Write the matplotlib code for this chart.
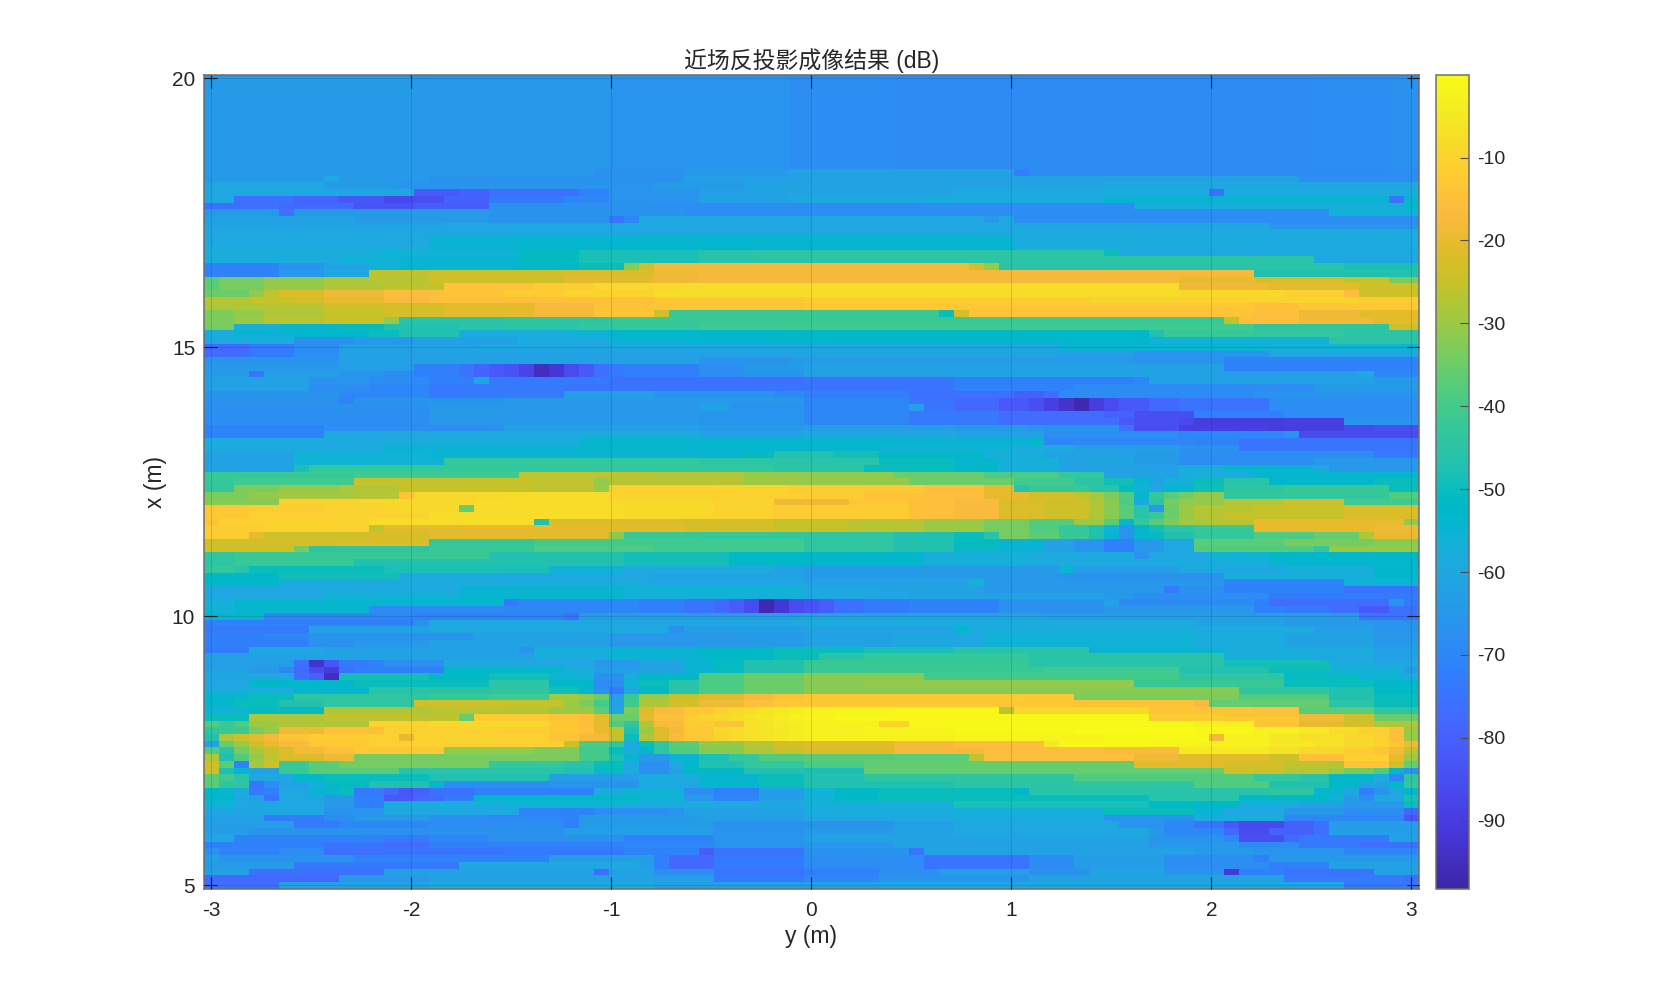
import numpy as np
import matplotlib
matplotlib.use("Agg")
import matplotlib.pyplot as plt
from matplotlib.colors import LinearSegmentedColormap

plt.rcParams['font.family'] = ['Liberation Sans', 'Noto Sans CJK SC', 'DejaVu Sans']
plt.rcParams['axes.unicode_minus'] = False

title_text = '近场反投影成像结果 (dB)'
x_label = 'y (m)'
y_label = 'x (m)'
x_ticks = [-3, -2, -1, 0, 1, 2, 3]
y_ticks = [5, 10, 15, 20]
cbar_ticks = [-10, -20, -30, -40, -50, -60, -70, -80, -90]
db_limits = (-98.2, 0.0)

y_centres = np.arange(81) * 0.075 - 3.0      # image columns (m)
x_centres = 20.0 - np.arange(121) * 0.125    # image rows, top to bottom (m)

TOP = [0,-64, 14,-65, 27,-66, 39,-68, 46,-69, 74,-68, 79,-67]

# each row: start column, dB, start column, dB, ...
rows = [
 TOP, TOP, TOP, TOP, TOP, TOP, TOP, TOP, TOP, TOP, TOP, TOP, TOP, TOP,
 [0,-64, 26,-67, 32,-64, 39,-62, 54,-72, 55,-69],
 [0,-64, 8,-60, 9,-64, 12,-65, 15,-67, 32,-63, 39,-62, 73,-68],
 [0,-60, 8,-64, 13,-66, 30,-64, 36,-61, 60,-60],
 [0,-60, 14,-82, 17,-80, 19,-76, 25,-71, 27,-66, 33,-63, 37,-61, 50,-58, 67,-76, 68,-58],
 [0,-60, 2,-76, 6,-79, 9,-83, 12,-87, 14,-85, 16,-80, 19,-74, 24,-70, 27,-66, 33,-62, 39,-60, 48,-58, 60,-55, 79,-76, 80,-55],
 [0,-76, 5,-78, 10,-84, 14,-81, 19,-67, 30,-68, 62,-57, 80,-53],
 [0,-64, 5,-76, 6,-64, 19,-66, 32,-68, 75,-56],
 [0,-62, 10,-64, 19,-66, 27,-75, 28,-70, 29,-60, 52,-65, 53,-60, 54,-68],
 [0,-62, 10,-61, 16,-60, 71,-66],
 [0,-60, 54,-59],
 [0,-60, 15,-55, 21,-54, 54,-58, 70,-59],
 [0,-59, 15,-55, 21,-54, 54,-58, 70,-59],
 [0,-58, 11,-56, 21,-51, 25,-48, 33,-46, 37,-45, 60,-50, 61,-60],
 [0,-58, 9,-56, 13,-55, 21,-51, 25,-48, 33,-46, 37,-45, 74,-60],
 [0,-71, 5,-66, 8,-62, 11,-56, 13,-54, 21,-52, 25,-50, 28,-32, 29,-24, 30,-18, 51,-23, 52,-30, 53,-46, 76,-48],
 [0,-71, 5,-65, 8,-60, 11,-26, 15,-24, 24,-22, 30,-19, 33,-18, 70,-47],
 [0,-37, 1,-34, 4,-31, 8,-28, 11,-27, 15,-24, 24,-21, 30,-19, 33,-18, 65,-20, 70,-22, 76,-25, 79,-33],
 [0,-37, 1,-34, 4,-31, 8,-28, 12,-26, 16,-14, 22,-12, 26,-9, 32,-8, 65,-19, 71,-21, 77,-24],
 [0,-35, 3,-31, 4,-26, 5,-22, 8,-19, 12,-16, 16,-14, 20,-12, 24,-10, 30,-8, 65,-9, 72,-11, 76,-16, 77,-24],
 [0,-27, 3,-25, 6,-23, 8,-20, 12,-17, 15,-15, 30,-13, 40,-12, 59,-10, 77,-12],
 [0,-28, 4,-27, 8,-24, 12,-23, 16,-21, 22,-17, 26,-14, 40,-13, 70,-15, 73,-13],
 [0,-33, 2,-31, 4,-28, 8,-25, 12,-23, 16,-21, 22,-18, 26,-14, 30,-24, 31,-42, 49,-50, 50,-23, 51,-14, 70,-15, 73,-19, 77,-21],
 [0,-33, 2,-30, 4,-27, 8,-25, 12,-31, 13,-46, 20,-44, 27,-42, 68,-26, 69,-16, 73,-19, 78,-21],
 [0,-34, 2,-57, 5,-54, 9,-51, 12,-47, 17,-45, 25,-43, 33,-41, 70,-44, 79,-24],
 [0,-58, 2,-55, 6,-53, 11,-50, 13,-47, 17,-58, 24,-56, 27,-53, 38,-52, 63,-47, 64,-42, 70,-43, 76,-45],
 [0,-60, 2,-58, 6,-67, 10,-65, 14,-62, 21,-59, 27,-55, 32,-53, 63,-56, 75,-45],
 [0,-78, 3,-74, 6,-69, 9,-62, 18,-60, 57,-55, 70,-56],
 [0,-77, 3,-73, 6,-68, 9,-62, 40,-61, 57,-63, 62,-66, 71,-60],
 [0,-66, 9,-62, 33,-66, 39,-64, 62,-66, 68,-71],
 [0,-65, 9,-63, 14,-72, 17,-75, 18,-79, 19,-82, 20,-84, 21,-88, 22,-95, 23,-92, 24,-86, 25,-82, 26,-76, 27,-74, 28,-72, 33,-68, 36,-64, 40,-62, 68,-71],
 [0,-64, 3,-75, 4,-63, 9,-66, 12,-69, 14,-72, 17,-75, 18,-79, 19,-82, 20,-84, 21,-88, 22,-95, 23,-92, 24,-86, 25,-82, 26,-76, 27,-74, 28,-72, 33,-68, 36,-66, 40,-62, 68,-63, 77,-59, 78,-70],
 [0,-62, 7,-66, 11,-69, 15,-72, 18,-60, 19,-74, 27,-76, 40,-75, 50,-72, 62,-70, 63,-62, 78,-64],
 [0,-62, 7,-68, 11,-70, 15,-74, 24,-75, 50,-71, 58,-69, 74,-64],
 [0,-66, 9,-70, 15,-74, 24,-63, 30,-66, 38,-69, 40,-72, 47,-76, 54,-80, 56,-77, 57,-69, 70,-66],
 [0,-67, 9,-71, 10,-66, 20,-65, 40,-70, 47,-75, 50,-78, 53,-82, 55,-85, 56,-89, 57,-93, 58,-97, 59,-90, 60,-86, 61,-82, 63,-78, 65,-75, 71,-68],
 [0,-67, 15,-65, 33,-61, 35,-66, 40,-70, 47,-63, 48,-75, 50,-78, 53,-82, 55,-85, 56,-89, 57,-93, 58,-97, 59,-90, 60,-86, 61,-82, 63,-78, 65,-75, 71,-68],
 [0,-68, 15,-65, 33,-66, 40,-70, 47,-74, 53,-77, 60,-80, 62,-85, 66,-72, 72,-68],
 [0,-68, 15,-65, 33,-66, 40,-70, 47,-74, 53,-77, 61,-82, 62,-85, 65,-87, 66,-90, 72,-89, 76,-66],
 [0,-71, 8,-68, 19,-66, 20,-63, 33,-64, 40,-63, 50,-64, 55,-66, 61,-76, 62,-85, 65,-89, 71,-90, 76,-87, 78,-85],
 [0,-71, 8,-60, 16,-59, 33,-62, 40,-60, 50,-62, 56,-68, 65,-70, 72,-66, 73,-86],
 [0,-59, 12,-58, 25,-54, 46,-55, 55,-52, 56,-70, 66,-71, 69,-75],
 [0,-59, 12,-55, 25,-54, 45,-56, 54,-59, 58,-63, 65,-67, 69,-75],
 [0,-62, 6,-56, 15,-55, 36,-51, 38,-47, 42,-49, 45,-53, 52,-57, 56,-61, 62,-64, 65,-68, 78,-74],
 [0,-61, 6,-56, 16,-43, 33,-45, 40,-46, 45,-50, 50,-54, 53,-57, 57,-61, 62,-64, 65,-69, 74,-65],
 [0,-61, 6,-48, 7,-43, 38,-45, 44,-50, 50,-53, 53,-57, 57,-62, 65,-57, 68,-54, 74,-60, 75,-65],
 [0,-42, 10,-41, 21,-26, 30,-27, 36,-30, 40,-31, 46,-35, 52,-39, 57,-43, 60,-62, 65,-58, 70,-54],
 [0,-43, 2,-41, 10,-25, 22,-26, 26,-31, 27,-27, 36,-30, 40,-31, 47,-35, 54,-41, 58,-45, 60,-49, 62,-54, 63,-61, 64,-57, 66,-50, 68,-46, 71,-53, 78,-50],
 [0,-43, 2,-33, 5,-31, 9,-28, 13,-25, 22,-26, 26,-30, 27,-11, 34,-10, 39,-12, 44,-13, 48,-15, 52,-20, 54,-46, 55,-42, 59,-46, 61,-51, 62,-56, 63,-60, 64,-54, 66,-49, 68,-44, 72,-42, 79,-50],
 [0,-33, 3,-31, 5,-29, 10,-27, 13,-14, 14,-9, 20,-8, 27,-10, 34,-11, 40,-12, 44,-14, 48,-16, 52,-20, 55,-23, 58,-26, 59,-29, 60,-33, 61,-38, 62,-54, 63,-43, 64,-37, 65,-34, 66,-31, 68,-43, 79,-38],
 [0,-32, 5,-11, 8,-10, 12,-9, 18,-8, 27,-9, 34,-10, 38,-19, 43,-13, 47,-15, 50,-17, 53,-22, 56,-24, 59,-28, 60,-32, 61,-39, 62,-60, 63,-45, 64,-34, 65,-31, 68,-27, 72,-24, 76,-41],
 [0,-13, 3,-12, 8,-10, 13,-9, 17,-36, 18,-8, 28,-9, 34,-10, 38,-12, 47,-15, 50,-17, 53,-22, 56,-24, 59,-28, 60,-32, 61,-37, 62,-46, 63,-65, 64,-35, 65,-30, 66,-27, 70,-25, 76,-22],
 [0,-13, 3,-11, 9,-10, 15,-8, 28,-9, 34,-10, 38,-12, 47,-15, 50,-17, 53,-22, 56,-24, 59,-28, 60,-32, 61,-37, 62,-46, 63,-42, 64,-35, 65,-30, 66,-27, 68,-25, 76,-22],
 [0,-14, 1,-11, 4,-10, 11,-8, 22,-47, 23,-22, 32,-23, 38,-25, 43,-27, 48,-30, 52,-34, 55,-38, 58,-30, 60,-37, 61,-54, 62,-43, 63,-37, 64,-33, 65,-29, 67,-27, 70,-20, 80,-31],
 [0,-12, 4,-10, 11,-26, 12,-21, 17,-20, 27,-21, 32,-23, 38,-25, 43,-27, 48,-30, 52,-34, 55,-38, 57,-43, 59,-47, 60,-56, 61,-66, 62,-53, 63,-49, 64,-45, 66,-42, 70,-20, 78,-19],
 [0,-12, 3,-20, 4,-24, 11,-23, 15,-21, 27,-32, 28,-42, 33,-43, 40,-44, 46,-47, 50,-50, 52,-46, 53,-34, 55,-37, 57,-42, 59,-47, 60,-55, 61,-66, 62,-54, 63,-51, 64,-47, 66,-43, 70,-39, 74,-36, 77,-28, 78,-20],
 [0,-24, 3,-23, 9,-22, 15,-43, 22,-40, 30,-41, 40,-44, 46,-47, 50,-51, 53,-55, 56,-62, 58,-66, 60,-72, 62,-65, 64,-60, 66,-37, 72,-34, 78,-32],
 [0,-24, 6,-34, 7,-44, 15,-42, 22,-39, 30,-41, 40,-44, 46,-47, 50,-51, 53,-55, 56,-62, 58,-66, 60,-72, 62,-65, 64,-60, 66,-38, 74,-43, 75,-31],
 [0,-44, 2,-42, 19,-47, 28,-49, 35,-52, 40,-53, 48,-57, 55,-59, 62,-67, 63,-60, 67,-56, 71,-53],
 [0,-44, 2,-42, 10,-47, 28,-49, 35,-52, 40,-53, 48,-57, 55,-59, 67,-57, 71,-54],
 [0,-43, 2,-46, 3,-50, 12,-48, 23,-56, 28,-59, 38,-62, 40,-64, 50,-65, 57,-54, 58,-63, 65,-60, 72,-57, 78,-53],
 [0,-52, 5,-49, 13,-59, 20,-60, 30,-61, 40,-64, 57,-67, 68,-57, 78,-53],
 [0,-52, 5,-58, 29,-60, 40,-62, 51,-56, 52,-65, 68,-71, 76,-56],
 [0,-60, 8,-59, 17,-55, 28,-56, 40,-60, 45,-62, 52,-65, 64,-74, 65,-67, 68,-71, 76,-75],
 [0,-60, 8,-56, 17,-54, 28,-57, 40,-60, 47,-62, 60,-64, 62,-68, 71,-73],
 [0,-57, 2,-54, 20,-74, 21,-70, 29,-72, 32,-75, 34,-78, 35,-81, 36,-86, 37,-97, 38,-92, 39,-86, 40,-84, 41,-81, 42,-76, 44,-73, 47,-71, 53,-67, 60,-62, 61,-69, 70,-72, 71,-77, 79,-66, 80,-73],
 [0,-56, 2,-54, 11,-69, 20,-70, 29,-72, 32,-75, 34,-78, 35,-81, 36,-86, 37,-97, 38,-92, 39,-86, 40,-84, 41,-81, 42,-76, 44,-73, 47,-71, 53,-67, 60,-65, 70,-71, 72,-74, 75,-77, 77,-82, 79,-76],
 [0,-54, 4,-70, 14,-71, 24,-76, 25,-63, 40,-61, 56,-63, 77,-75],
 [0,-72, 14,-67, 15,-60, 39,-58, 66,-62, 72,-65, 78,-66],
 [0,-73, 7,-62, 15,-60, 31,-68, 32,-63, 40,-61, 50,-54, 51,-58, 66,-59, 74,-63, 78,-66],
 [0,-72, 4,-70, 7,-66, 18,-62, 27,-65, 36,-64, 40,-62, 46,-60, 52,-56, 66,-58, 72,-61, 78,-65],
 [0,-72, 7,-67, 10,-65, 15,-62, 27,-65, 36,-64, 40,-62, 46,-60, 52,-56, 66,-58, 72,-61, 78,-65],
 [0,-73, 3,-60, 8,-62, 21,-66, 22,-57, 27,-55, 33,-52, 38,-50, 44,-48, 50,-46, 59,-55, 68,-58, 78,-62],
 [0,-62, 10,-61, 22,-58, 27,-55, 33,-52, 38,-50, 41,-46, 44,-43, 55,-46, 68,-57, 74,-60, 78,-63],
 [0,-63, 6,-76, 7,-93, 8,-83, 9,-74, 11,-71, 12,-68, 16,-60, 26,-65, 29,-61, 32,-55, 34,-51, 36,-47, 40,-42, 55,-46, 68,-49, 75,-58, 78,-60],
 [0,-61, 3,-65, 5,-70, 6,-78, 7,-86, 8,-90, 9,-76, 10,-72, 16,-52, 24,-57, 26,-63, 29,-61, 32,-55, 34,-51, 36,-47, 40,-42, 56,-41, 65,-47, 71,-50, 75,-56, 80,-64],
 [0,-60, 6,-76, 7,-80, 8,-95, 9,-49, 15,-52, 19,-49, 23,-56, 26,-67, 28,-57, 29,-52, 33,-39, 36,-35, 40,-32, 48,-40, 65,-44, 72,-51, 77,-56, 80,-58],
 [0,-60, 3,-53, 10,-50, 19,-45, 23,-52, 26,-69, 28,-56, 29,-50, 31,-46, 33,-39, 36,-35, 40,-32, 44,-31, 62,-42, 72,-50, 78,-53],
 [0,-58, 6,-54, 11,-46, 19,-44, 23,-49, 25,-54, 26,-67, 27,-74, 28,-60, 29,-52, 31,-46, 33,-39, 36,-35, 40,-32, 69,-44, 75,-47, 78,-52],
 [0,-54, 3,-50, 6,-44, 15,-42, 19,-41, 23,-29, 25,-31, 26,-35, 27,-63, 28,-42, 29,-30, 31,-25, 33,-21, 36,-17, 38,-14, 40,-13, 58,-33, 69,-38, 75,-47, 78,-50],
 [0,-54, 2,-50, 5,-47, 8,-44, 14,-24, 20,-25, 24,-30, 25,-33, 26,-40, 27,-62, 28,-40, 29,-28, 31,-23, 33,-19, 36,-15, 38,-13, 58,-14, 66,-17, 67,-36, 75,-45, 78,-50],
 [0,-56, 3,-51, 8,-28, 15,-27, 23,-30, 26,-37, 27,-60, 28,-33, 29,-22, 30,-17, 32,-13, 34,-11, 35,-9, 36,-8, 37,-6, 38,-5, 39,-4, 40,-3, 42,-2, 46,-1, 53,-26, 54,-9, 63,-14, 70,-15, 73,-37, 78,-44],
 [0,-50, 3,-28, 8,-26, 17,-36, 18,-12, 23,-14, 25,-16, 26,-21, 27,-35, 29,-21, 30,-15, 32,-12, 33,-10, 34,-9, 35,-8, 36,-6, 37,-5, 38,-4, 39,-3, 40,-2, 42,-1, 63,-12, 68,-13, 73,-19, 76,-24, 78,-35],
 [0,-38, 1,-42, 2,-38, 3,-30, 5,-28, 11,-10, 15,-9, 23,-13, 25,-16, 26,-20, 27,-38, 28,-44, 29,-28, 30,-17, 32,-12, 34,-14, 36,-7, 37,-6, 38,-5, 39,-4, 40,-3, 45,-10, 47,-1, 66,-3, 70,-14, 73,-20, 76,-23, 78,-28],
 [0,-44, 1,-42, 3,-34, 4,-30, 5,-19, 8,-15, 12,-11, 20,-12, 23,-13, 25,-15, 26,-20, 27,-25, 28,-47, 29,-30, 30,-22, 31,-18, 32,-13, 34,-9, 35,-8, 36,-7, 37,-6, 38,-5, 39,-4, 40,-3, 44,-2, 50,-1, 58,0, 66,-1, 70,-3, 73,-5, 75,-8, 77,-11, 79,-15, 80,-30],
 [0,-47, 1,-28, 2,-24, 3,-21, 4,-18, 5,-14, 7,-12, 11,-11, 13,-20, 14,-10, 20,-11, 23,-14, 25,-18, 27,-26, 28,-50, 29,-28, 30,-22, 31,-17, 32,-13, 34,-10, 35,-8, 36,-7, 37,-6, 38,-5, 39,-4, 40,-3, 50,-2, 60,-1, 67,-18, 68,-3, 71,-5, 73,-7, 76,-9, 78,-11, 79,-15, 80,-30],
 [0,-62, 1,-36, 2,-30, 3,-24, 4,-20, 5,-17, 7,-13, 11,-11, 24,-25, 25,-39, 27,-44, 28,-60, 29,-50, 30,-44, 31,-37, 33,-31, 36,-27, 38,-23, 40,-21, 46,-18, 50,-16, 56,-5, 57,-1, 63,-2, 66,-3, 71,-5, 74,-7, 76,-9, 78,-11, 79,-13, 80,-19],
 [0,-38, 1,-46, 2,-34, 3,-29, 4,-25, 5,-22, 6,-18, 8,-15, 10,-13, 16,-31, 22,-33, 25,-40, 27,-50, 28,-57, 29,-53, 30,-44, 31,-38, 33,-32, 36,-28, 38,-25, 40,-22, 46,-18, 52,-16, 60,-17, 65,-5, 71,-7, 73,-9, 76,-12, 78,-14, 79,-18, 80,-26],
 [0,-28, 1,-47, 2,-38, 3,-30, 4,-26, 5,-22, 8,-19, 10,-34, 22,-33, 25,-40, 27,-48, 28,-55, 29,-64, 31,-55, 33,-48, 35,-43, 37,-38, 40,-37, 51,-26, 52,-15, 62,-19, 65,-21, 71,-24, 73,-15, 76,-11, 79,-20, 80,-30],
 [0,-24, 1,-37, 2,-71, 3,-29, 4,-24, 5,-42, 7,-37, 9,-34, 19,-43, 24,-46, 26,-50, 28,-60, 29,-68, 31,-60, 32,-52, 33,-47, 36,-43, 40,-39, 44,-36, 62,-21, 68,-23, 72,-26, 75,-28, 76,-14, 79,-24, 80,-36],
 [0,-24, 1,-48, 2,-54, 3,-62, 5,-42, 7,-37, 13,-46, 24,-47, 26,-51, 28,-59, 29,-68, 31,-62, 32,-52, 36,-47, 40,-48, 44,-36, 68,-24, 72,-27, 75,-30, 76,-34, 78,-38, 79,-52, 80,-67],
 [0,-37, 1,-41, 2,-46, 3,-60, 6,-52, 8,-50, 15,-47, 23,-63, 29,-58, 33,-54, 37,-50, 40,-47, 44,-44, 58,-38, 70,-43, 73,-46, 75,-53, 78,-58, 79,-70, 80,-44],
 [0,-37, 1,-44, 3,-75, 4,-68, 5,-62, 7,-57, 8,-51, 11,-47, 15,-54, 16,-68, 23,-66, 29,-60, 33,-54, 37,-50, 40,-47, 50,-45, 58,-44, 66,-38, 71,-47, 75,-52, 77,-62, 79,-52, 80,-43],
 [0,-52, 1,-54, 2,-58, 3,-74, 4,-72, 5,-60, 7,-55, 9,-50, 10,-74, 12,-78, 13,-83, 14,-80, 15,-76, 18,-72, 26,-58, 28,-56, 32,-68, 34,-72, 37,-63, 40,-56, 42,-52, 45,-50, 54,-53, 55,-46, 71,-44, 74,-54, 76,-60, 77,-72, 78,-66, 79,-60, 80,-54],
 [0,-52, 2,-60, 3,-63, 4,-75, 5,-60, 8,-64, 10,-72, 12,-82, 14,-78, 16,-73, 18,-53, 24,-52, 29,-56, 32,-65, 34,-70, 37,-63, 40,-56, 42,-52, 45,-50, 63,-46, 69,-52, 75,-56, 76,-64, 77,-68, 78,-60, 80,-48],
 [0,-56, 2,-60, 8,-65, 10,-71, 11,-73, 12,-58, 20,-56, 28,-58, 34,-60, 40,-57, 50,-48, 63,-52, 69,-58, 73,-61, 76,-65, 80,-50],
 [0,-60, 8,-66, 12,-60, 21,-71, 26,-68, 31,-66, 32,-62, 40,-58, 50,-57, 60,-50, 66,-55, 68,-60, 72,-65, 76,-68, 80,-78],
 [0,-62, 4,-73, 8,-69, 10,-65, 15,-68, 19,-70, 24,-71, 25,-64, 33,-63, 40,-60, 50,-58, 60,-66, 66,-58, 72,-70, 80,-83],
 [0,-63, 6,-74, 9,-70, 15,-68, 24,-72, 25,-64, 34,-67, 46,-63, 50,-60, 61,-66, 64,-70, 66,-75, 68,-82, 69,-87, 72,-80, 74,-76, 75,-63],
 [0,-63, 3,-66, 10,-67, 24,-63, 34,-66, 40,-64, 46,-61, 50,-60, 63,-64, 64,-70, 68,-78, 69,-86, 71,-80, 74,-76, 75,-63],
 [0,-60, 2,-71, 12,-74, 15,-70, 19,-67, 28,-71, 34,-66, 40,-62, 50,-61, 63,-66, 68,-70, 69,-85, 72,-78, 73,-74, 79,-61],
 [0,-72, 8,-75, 12,-77, 15,-72, 28,-70, 34,-66, 40,-65, 46,-62, 63,-65, 69,-69, 73,-74, 77,-76],
 [0,-67, 1,-71, 5,-69, 8,-76, 12,-75, 20,-74, 28,-71, 33,-81, 34,-75, 40,-67, 44,-66, 47,-75, 48,-62, 66,-64, 70,-66, 76,-70],
 [0,-62, 1,-66, 10,-71, 23,-63, 30,-72, 31,-78, 34,-74, 40,-68, 48,-75, 55,-69, 58,-63, 64,-68, 70,-72, 71,-64],
 [0,-64, 6,-74, 17,-60, 29,-63, 30,-72, 31,-78, 34,-74, 40,-69, 48,-75, 55,-69, 58,-63, 64,-68, 71,-72, 75,-62],
 [0,-61, 3,-76, 12,-62, 26,-76, 27,-62, 30,-68, 34,-75, 40,-72, 45,-68, 49,-63, 55,-67, 59,-61, 64,-66, 68,-91, 69,-72, 72,-75, 78,-62],
 [0,-78, 9,-65, 15,-61, 30,-63, 34,-73, 40,-70, 45,-66, 55,-61, 72,-74, 80,-77],
 [0,-76, 5,-62, 15,-59, 30,-62, 45,-60, 76,-74],
]

parula = [
 (0.2422,0.1504,0.6603),(0.2504,0.1650,0.7076),(0.2578,0.1818,0.7511),(0.2647,0.1978,0.7952),
 (0.2706,0.2147,0.8364),(0.2751,0.2342,0.8710),(0.2783,0.2559,0.8991),(0.2803,0.2782,0.9221),
 (0.2813,0.3006,0.9414),(0.2810,0.3228,0.9579),(0.2795,0.3447,0.9717),(0.2760,0.3667,0.9829),
 (0.2699,0.3892,0.9906),(0.2602,0.4123,0.9952),(0.2440,0.4358,0.9988),(0.2206,0.4603,0.9973),
 (0.1963,0.4847,0.9892),(0.1834,0.5074,0.9798),(0.1786,0.5289,0.9682),(0.1764,0.5499,0.9520),
 (0.1687,0.5703,0.9359),(0.1540,0.5902,0.9218),(0.1460,0.6091,0.9079),(0.1380,0.6276,0.8973),
 (0.1248,0.6459,0.8883),(0.1113,0.6635,0.8763),(0.0952,0.6798,0.8598),(0.0689,0.6948,0.8394),
 (0.0297,0.7082,0.8163),(0.0036,0.7203,0.7917),(0.0067,0.7312,0.7660),(0.0433,0.7411,0.7394),
 (0.0964,0.7500,0.7120),(0.1408,0.7584,0.6842),(0.1717,0.7670,0.6554),(0.1938,0.7758,0.6251),
 (0.2161,0.7843,0.5923),(0.2470,0.7918,0.5567),(0.2906,0.7973,0.5188),(0.3406,0.8008,0.4789),
 (0.3909,0.8029,0.4354),(0.4456,0.8024,0.3909),(0.5044,0.7993,0.3480),(0.5616,0.7942,0.3045),
 (0.6174,0.7876,0.2612),(0.6720,0.7793,0.2227),(0.7242,0.7698,0.1910),(0.7738,0.7598,0.1646),
 (0.8203,0.7498,0.1535),(0.8634,0.7406,0.1596),(0.9035,0.7330,0.1774),(0.9393,0.7288,0.2100),
 (0.9728,0.7298,0.2394),(0.9956,0.7434,0.2371),(0.9970,0.7659,0.2199),(0.9952,0.7893,0.2028),
 (0.9892,0.8136,0.1885),(0.9786,0.8386,0.1766),(0.9676,0.8639,0.1643),(0.9610,0.8890,0.1537),
 (0.9597,0.9135,0.1423),(0.9628,0.9373,0.1265),(0.9691,0.9606,0.1064),(0.9769,0.9839,0.0805),
]
cmap = LinearSegmentedColormap.from_list('parula', parula, N=256)

# expand the rows into the image matrix
assert len(rows) == len(x_centres), len(rows)
image = np.zeros((len(x_centres), len(y_centres)))
for r, row in enumerate(rows):
    starts = row[0::2] + [len(y_centres)]
    vals = row[1::2]
    for k, v in enumerate(vals):
        image[r, starts[k]:starts[k + 1]] = v

W, H = 1660, 999
fig = plt.figure(figsize=(W / 100, H / 100), dpi=100, facecolor='white')
ax = fig.add_axes([203.5 / W, 1 - 888.7 / H, (1419 - 203.5) / W, (888.7 - 74.7) / H])
mesh = ax.pcolormesh(y_centres, x_centres, image, shading='nearest', cmap=cmap,
                     vmin=db_limits[0], vmax=db_limits[1], antialiased=False, linewidth=0)
ax.set_xlim(-3.0375, 3.0375)
ax.set_ylim(4.9375, 20.0625)

text_col = '#262626'
ax.set_xticks(x_ticks)
ax.set_yticks(y_ticks)
ax.tick_params(axis='both', which='major', direction='in', length=9, width=0.8, color='#1a1a1a',
               top=True, right=True, labelsize=15, labelcolor=text_col)
ax.tick_params(axis='x', pad=9)
ax.tick_params(axis='y', pad=6)
ax.set_axisbelow(False)
ax.grid(True, color='#262626', alpha=0.16, linewidth=0.8)
for s in ax.spines.values():
    s.set_color('#6e6e6e')
    s.set_linewidth(1.1)

ax.set_xlabel(x_label, fontsize=16.5, color=text_col, va='center')
ax.xaxis.set_label_coords(0.5, -(937 - 888.7) / (888.7 - 74.7))
ax.set_ylabel(y_label, fontsize=16.5, color=text_col, va='center')
ax.yaxis.set_label_coords(-(203.5 - 155.5) / (1419 - 203.5), 0.5)
ax.set_title(title_text, fontsize=16.5, color=text_col, pad=5)

cax = fig.add_axes([1436 / W, 1 - 888.7 / H, 33 / W, (888.7 - 74.7) / H])
cb = fig.colorbar(mesh, cax=cax)
cb.set_ticks(cbar_ticks)
cb.ax.tick_params(direction='in', length=6.5, width=0.8, color='#4d4d4d',
                  labelsize=14, labelcolor=text_col, pad=5.5, right=True)
cb.outline.set_edgecolor('#6e6e6e')
cb.outline.set_linewidth(1.1)

fig.savefig('out.png', dpi=100)
